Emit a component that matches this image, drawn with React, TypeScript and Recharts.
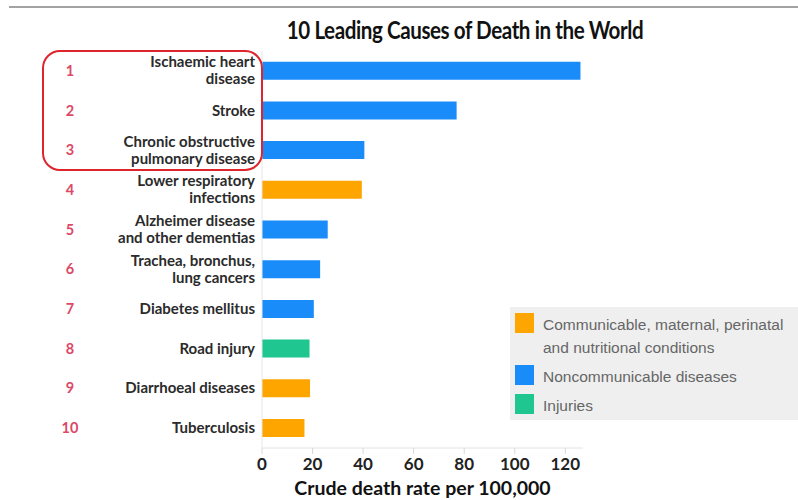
import React from 'react';
import { BarChart, Bar, XAxis, YAxis, Cell } from 'recharts';

// Leading causes, top to bottom ("\n" marks the label line break)
const causes = [
  'Ischaemic heart\ndisease',
  'Stroke',
  'Chronic obstructive\npulmonary disease',
  'Lower respiratory\ninfections',
  'Alzheimer disease\nand other dementias',
  'Trachea, bronchus,\nlung cancers',
  'Diabetes mellitus',
  'Road injury',
  'Diarrhoeal diseases',
  'Tuberculosis',
];

// Crude death rate per 100,000
const rates = [126, 77, 40.5, 39.5, 26, 23, 20.5, 18.8, 19, 16.8];

// 0 = communicable, 1 = noncommunicable, 2 = injuries
const groups = [1, 1, 1, 0, 1, 1, 1, 2, 0, 0];

const groupLabels = [
  'Communicable, maternal, perinatal\nand nutritional conditions',
  'Noncommunicable diseases',
  'Injuries',
];
const groupColors = ['#ffa500', '#1a8cfa', '#1fc68f'];

const xTicks = [0, 20, 40, 60, 80, 100, 120];

const data = causes.map((cause, i) => ({ cause, rate: rates[i], group: groups[i] }));

const CauseTick = ({ x, y, payload }: any) => {
  const lines: string[] = String(payload.value).split('\n');
  const rank = causes.indexOf(payload.value) + 1;
  const startY = y - ((lines.length - 1) * 17) / 2;
  return (
    <g>
      <text x={70} y={y} dy={5} textAnchor="middle" fill="#dc4866" fontSize={14.5} fontFamily="Lato, sans-serif" fontWeight={700}>
        {rank}
      </text>
      {lines.map((line, i) => (
        <text
          key={i}
          x={x + 1}
          y={startY + i * 17}
          dy={5}
          textAnchor="end"
          fill="#2b2b2b"
          fontSize={15}
          fontWeight={700}
          fontFamily="Lato, sans-serif"
        >
          {line}
        </text>
      ))}
    </g>
  );
};

const GroupLegend = () => (
  <div style={{ position: 'absolute', left: 510, top: 307, width: 300, height: 113, background: '#efefef', padding: '6px 0 0 5px', boxSizing: 'border-box', fontFamily: '"Liberation Sans", Arial, sans-serif', fontSize: 15.5, color: '#666', lineHeight: '23px', whiteSpace: 'nowrap' }}>
    {groupLabels.map((label, i) => (
      <div key={i} style={{ display: 'flex', alignItems: 'flex-start', marginBottom: 6 }}>
        <div style={{ width: 19, height: 20, background: groupColors[i], marginRight: 9, flexShrink: 0 }} />
        <div>
          {label.split('\n').map((l, j) => (
            <div key={j}>{l}</div>
          ))}
        </div>
      </div>
    ))}
  </div>
);

export default function App() {
  return (
    <div style={{ position: 'absolute', top: 0, left: 0, width: 798, height: 500, overflow: 'hidden', background: '#fff' }}>
      <div style={{ position: 'absolute', top: 6, left: 9, right: 0, height: 2, background: '#a3a3a3' }} />
      <div style={{ position: 'absolute', top: 15, left: 215, width: 500, display: 'flex', justifyContent: 'center', fontFamily: 'Lato, sans-serif', fontWeight: 700, fontSize: 24.5, letterSpacing: -0.5, color: '#111', whiteSpace: 'nowrap', transform: 'scaleX(0.84)' }}>
        10 Leading Causes of Death in the World
      </div>
      <BarChart
        width={798}
        height={500}
        data={data}
        layout="vertical"
        margin={{ top: 51, right: 215, bottom: 0, left: 0 }}
        barCategoryGap="27%"
      >
        <XAxis
          type="number"
          dataKey="rate"
          domain={[0, 127]}
          ticks={xTicks}
          allowDataOverflow
          stroke="#e2e2e2"
          tickLine={{ stroke: '#d8d8d8' }}
          tickSize={6}
          tickMargin={4}
          tick={{ fill: '#222', fontSize: 17, fontWeight: 700, fontFamily: 'Lato, sans-serif' }}
          height={52}
          label={{ value: 'Crude death rate per 100,000', position: 'insideBottom', offset: 5, fill: '#111', fontSize: 19.5, fontWeight: 700, fontFamily: 'Lato, sans-serif' }}
        />
        <YAxis
          type="category"
          dataKey="cause"
          width={262}
          stroke="#e6e6e6"
          tickLine={false}
          tick={<CauseTick />}
          interval={0}
        />
        <Bar dataKey="rate" isAnimationActive={false}>
          {data.map((d, i) => (
            <Cell key={i} fill={groupColors[d.group]} />
          ))}
        </Bar>
      </BarChart>
      <GroupLegend />
      <div style={{ position: 'absolute', left: 42, top: 50, width: 217, height: 117, border: '2.5px solid #e0242c', borderRadius: 18 }} />
    </div>
  );
}
